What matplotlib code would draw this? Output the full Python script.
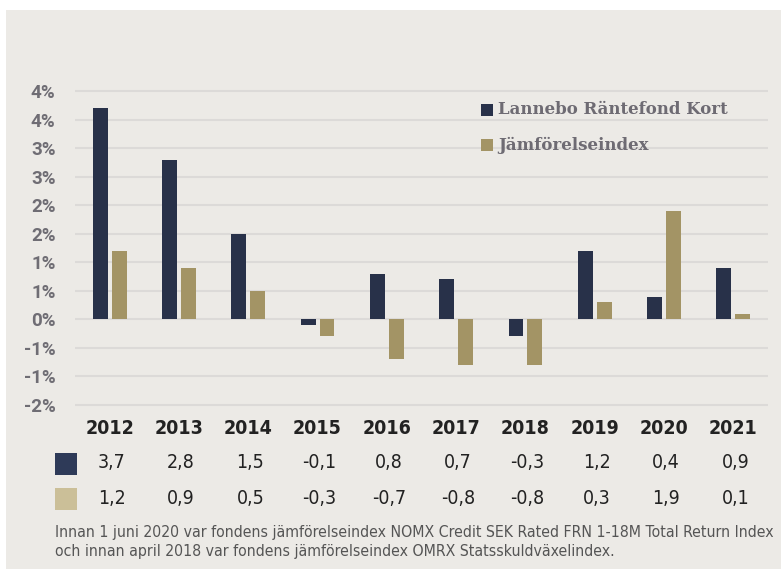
import matplotlib
matplotlib.use("Agg")
import matplotlib.pyplot as plt
from matplotlib.patches import Rectangle
import matplotlib.transforms as mtransforms
from matplotlib import font_manager as fm
import numpy as np

years = ["2012", "2013", "2014", "2015", "2016", "2017", "2018", "2019", "2020", "2021"]
fund = [3.7, 2.8, 1.5, -0.1, 0.8, 0.7, -0.3, 1.2, 0.4, 0.9]
index = [1.2, 0.9, 0.5, -0.3, -0.7, -0.8, -0.8, 0.3, 1.9, 0.1]
series_names = ["Lannebo Räntefond Kort", "Jämförelseindex"]
ytick_vals = [-1.5, -1.0, -0.5, 0.0, 0.5, 1.0, 1.5, 2.0, 2.5, 3.0, 3.5, 4.0]
ytick_labels = ["-2%", "-1%", "-1%", "0%", "1%", "1%", "2%", "2%", "3%", "3%", "4%", "4%"]
footnote = ("Innan 1 juni 2020 var fondens jämförelseindex NOMX Credit SEK Rated FRN 1-18M Total Return Index\n"
            "och innan april 2018 var fondens jämförelseindex OMRX Statsskuldväxelindex.")

navy = "#283149"
tan = "#a39465"
tan_light = "#cbbf98"
navy_sq = "#2e3a58"
bg = "#ECEAE6"
grid_c = "#DCDAD8"
label_c = "#6f6d74"

# look for a condensed / narrow font file
def find_narrow(bold):
    best = None
    for f in fm.fontManager.ttflist:
        fn = f.fname.lower()
        if ("narrow" in fn or "condensed" in fn) and "oblique" not in fn and "italic" not in fn:
            isbold = ("bold" in fn)
            if isbold == bold:
                if best is None or "liberation" in fn:
                    best = f.fname
    return best

nr = find_narrow(False)
nb = find_narrow(True)
if nr:
    fp_reg = fm.FontProperties(fname=nr)
    scale_reg = 1.0
else:
    fp_reg = fm.FontProperties(family="Roboto")
    scale_reg = 0.82
if nb:
    fp_bold = fm.FontProperties(fname=nb)
    scale_bold = 1.0
else:
    fp_bold = fm.FontProperties(family="Roboto", weight="bold")
    scale_bold = 0.85

W, H = 781, 575
fig = plt.figure(figsize=(W / 100, H / 100), dpi=100, facecolor="white")

def fx(px):
    return px / W

def fy(py):
    return 1 - py / H

fig.patches.append(Rectangle((fx(6), fy(569)), 1 - fx(6), fy(10) - fy(569),
                             transform=fig.transFigure, facecolor=bg, edgecolor="none", zorder=-5))

ppu = (405 - 91) / 5.5
ymin, ymax = -1.56, 4.06
top_px = 91 - (ymax - 4.0) * ppu
bot_px = 405 + (-1.5 - ymin) * ppu
ax = fig.add_axes([fx(75), fy(bot_px), fx(768) - fx(75), fy(top_px) - fy(bot_px)])
ax.set_facecolor("none")
ax.set_ylim(ymin, ymax)
ax.set_xlim(-0.5, len(years) - 0.5)

x = np.arange(len(years))
bw = 0.215
off = 0.137
ax.bar(x - off, fund, bw, color=navy, zorder=3)
ax.bar(x + off, index, bw, color=tan, zorder=3)

for v in ytick_vals:
    ax.axhline(v, color=grid_c, lw=1.5, zorder=1)

ax.set_yticks(ytick_vals)
ax.set_yticklabels(ytick_labels, fontfamily="Roboto", fontweight="bold", fontsize=13.5,
                   color=label_c)
ax.tick_params(axis="y", length=0, pad=14)
ax.set_xticks([])
for s in ax.spines.values():
    s.set_visible(False)

# legend
leg_y = [110, 145]
leg_cols = [navy, tan]
for yy, c, name in zip(leg_y, leg_cols, series_names):
    fig.patches.append(Rectangle((fx(481), fy(yy + 6)), fx(12), 12 / H,
                                 transform=fig.transFigure, facecolor=c, edgecolor="none", zorder=5))
    fig.text(fx(498), fy(yy), name, fontsize=12, fontweight="bold", family="DejaVu Serif",
             color="#6e6b73", va="center", ha="left")

# table
trans = mtransforms.blended_transform_factory(ax.transData, fig.transFigure)
for i, yr in enumerate(years):
    ax.text(i, fy(428), yr, transform=trans, ha="center", va="center",
            fontproperties=fp_bold, fontsize=14 * scale_bold, color="#222222", clip_on=False)
    ax.text(i + 0.03, fy(463), f"{fund[i]:.1f}".replace(".", ","), transform=trans, ha="center",
            va="center", fontproperties=fp_reg, fontsize=14 * scale_reg, color="#222222",
            clip_on=False)
    ax.text(i + 0.03, fy(498), f"{index[i]:.1f}".replace(".", ","), transform=trans, ha="center",
            va="center", fontproperties=fp_reg, fontsize=14 * scale_reg, color="#222222",
            clip_on=False)

fig.patches.append(Rectangle((fx(55), fy(475)), fx(22), 22 / H, transform=fig.transFigure,
                             facecolor=navy_sq, edgecolor="none", zorder=5))
fig.patches.append(Rectangle((fx(55), fy(510)), fx(22), 22 / H, transform=fig.transFigure,
                             facecolor=tan_light, edgecolor="none", zorder=5))

fig.text(fx(55), fy(542), footnote, fontproperties=fp_reg, fontsize=11.3 * scale_reg,
         color="#555555", ha="left", va="center", linespacing=1.4)

fig.savefig("out.png", dpi=100, facecolor="white")
